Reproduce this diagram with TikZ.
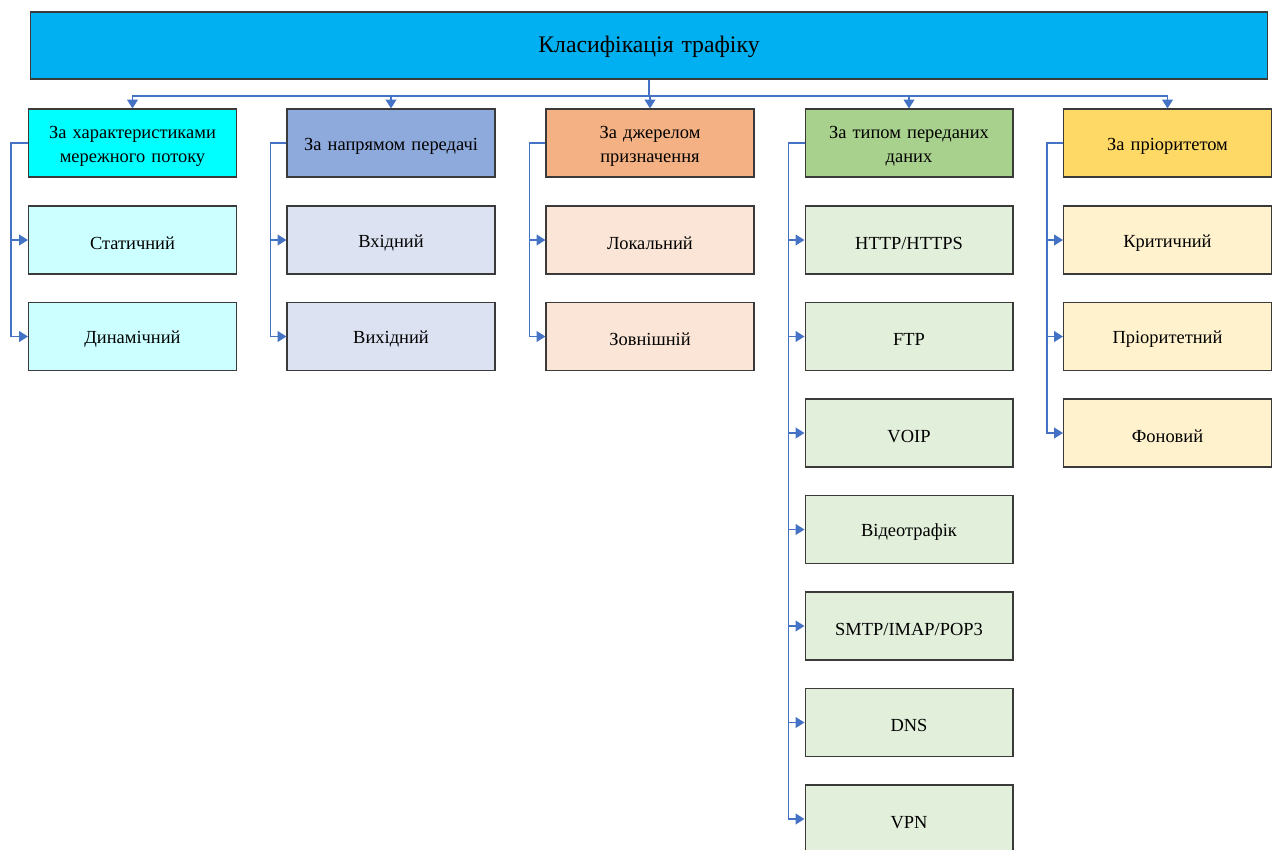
\documentclass[tikz,border=0pt]{standalone}
\usepackage{fontspec}
\setmainfont{Liberation Serif}
\usetikzlibrary{arrows.meta}

\definecolor{topblue}{HTML}{00B0F0}
\definecolor{linkblue}{HTML}{4472C4}
\definecolor{boxline}{HTML}{3A3A3A}
\definecolor{headA}{HTML}{00FFFF}
\definecolor{itemA}{HTML}{CCFFFF}
\definecolor{headB}{HTML}{8EA9DB}
\definecolor{itemB}{HTML}{DDE2F3}
\definecolor{headC}{HTML}{F4B183}
\definecolor{itemC}{HTML}{FBE5D6}
\definecolor{headD}{HTML}{A9D18E}
\definecolor{itemD}{HTML}{E2EFDA}
\definecolor{headE}{HTML}{FFD966}
\definecolor{itemE}{HTML}{FFF2CC}

\tikzset{
  box/.style={draw=boxline, line width=0.6pt, minimum width=4.16cm, minimum height=1.36cm,
    text width=3.8cm, align=center, inner sep=1pt, font=\fontsize{10.5}{13.5}\selectfont,
    execute at begin node=\rule{0pt}{10.5pt}},
  link/.style={draw=linkblue, line width=1pt, -{Triangle[length=5pt,width=6pt]}},
}

\begin{document}
\begin{tikzpicture}[x=0.02cm, y=-0.02cm]
    \useasboundingbox (0,0) rectangle (1278,849);

    % root
    \node (top) at (649,45.5) [box, fill=topblue, minimum width=24.76cm, minimum height=1.34cm,
      text width=20cm, font=\fontsize{13.5}{16}\selectfont] {Класифікація трафіку};
    \coordinate (bus) at (649,96);

    % headers
    \node (h1) at (132.5,143) [box, fill=headA] {За характеристиками\\мережного потоку};
    \node (h2) at (391,143) [box, fill=headB] {За напрямом передачі};
    \node (h3) at (650,143) [box, fill=headC] {За джерелом\\призначення};
    \node (h4) at (909,143) [box, fill=headD] {За типом переданих\\даних};
    \node (h5) at (1167.5,143) [box, fill=headE] {За пріоритетом};

    % column 1
    \node (c11) at (132.5,240) [box, fill=itemA] {Статичний};
    \node (c12) at (132.5,336.5) [box, fill=itemA] {Динамічний};
    % column 2
    \node (c21) at (391,240) [box, fill=itemB] {Вхідний};
    \node (c22) at (391,336.5) [box, fill=itemB] {Вихідний};
    % column 3
    \node (c31) at (650,240) [box, fill=itemC] {Локальний};
    \node (c32) at (650,336.5) [box, fill=itemC] {Зовнішній};
    % column 4
    \node (c41) at (909,240) [box, fill=itemD] {HTTP/HTTPS};
    \node (c42) at (909,336.5) [box, fill=itemD] {FTP};
    \node (c43) at (909,433) [box, fill=itemD] {VOIP};
    \node (c44) at (909,529.5) [box, fill=itemD] {Відеотрафік};
    \node (c45) at (909,626) [box, fill=itemD] {SMTP/IMAP/POP3};
    \node (c46) at (909,722.5) [box, fill=itemD] {DNS};
    \node (c47) at (909,819) [box, fill=itemD] {VPN};
    % column 5
    \node (c51) at (1167.5,240) [box, fill=itemE] {Критичний};
    \node (c52) at (1167.5,336.5) [box, fill=itemE] {Пріоритетний};
    \node (c53) at (1167.5,433) [box, fill=itemE] {Фоновий};

    % root to headers
    \draw[link] (top.south) -- (bus) -| (h1.north);
    \draw[link] (top.south) -- (bus) -| (h2.north);
    \draw[link] (top.south) -- (bus) -| (h3.north);
    \draw[link] (top.south) -- (bus) -| (h4.north);
    \draw[link] (top.south) -- (bus) -| (h5.north);

    % headers to items
    \draw[link] (h1.west) -| ([xshift=-0.34cm]c11.west) -- (c11.west);
    \draw[link] (h1.west) -| ([xshift=-0.34cm]c12.west) -- (c12.west);
    \draw[link] (h2.west) -| ([xshift=-0.32cm]c21.west) -- (c21.west);
    \draw[link] (h2.west) -| ([xshift=-0.32cm]c22.west) -- (c22.west);
    \draw[link] (h3.west) -| ([xshift=-0.32cm]c31.west) -- (c31.west);
    \draw[link] (h3.west) -| ([xshift=-0.32cm]c32.west) -- (c32.west);
    \draw[link] (h4.west) -| ([xshift=-0.32cm]c41.west) -- (c41.west);
    \draw[link] (h4.west) -| ([xshift=-0.32cm]c42.west) -- (c42.west);
    \draw[link] (h4.west) -| ([xshift=-0.32cm]c43.west) -- (c43.west);
    \draw[link] (h4.west) -| ([xshift=-0.32cm]c44.west) -- (c44.west);
    \draw[link] (h4.west) -| ([xshift=-0.32cm]c45.west) -- (c45.west);
    \draw[link] (h4.west) -| ([xshift=-0.32cm]c46.west) -- (c46.west);
    \draw[link] (h4.west) -| ([xshift=-0.32cm]c47.west) -- (c47.west);
    \draw[link] (h5.west) -| ([xshift=-0.32cm]c51.west) -- (c51.west);
    \draw[link] (h5.west) -| ([xshift=-0.32cm]c52.west) -- (c52.west);
    \draw[link] (h5.west) -| ([xshift=-0.32cm]c53.west) -- (c53.west);
\end{tikzpicture}
\end{document}
